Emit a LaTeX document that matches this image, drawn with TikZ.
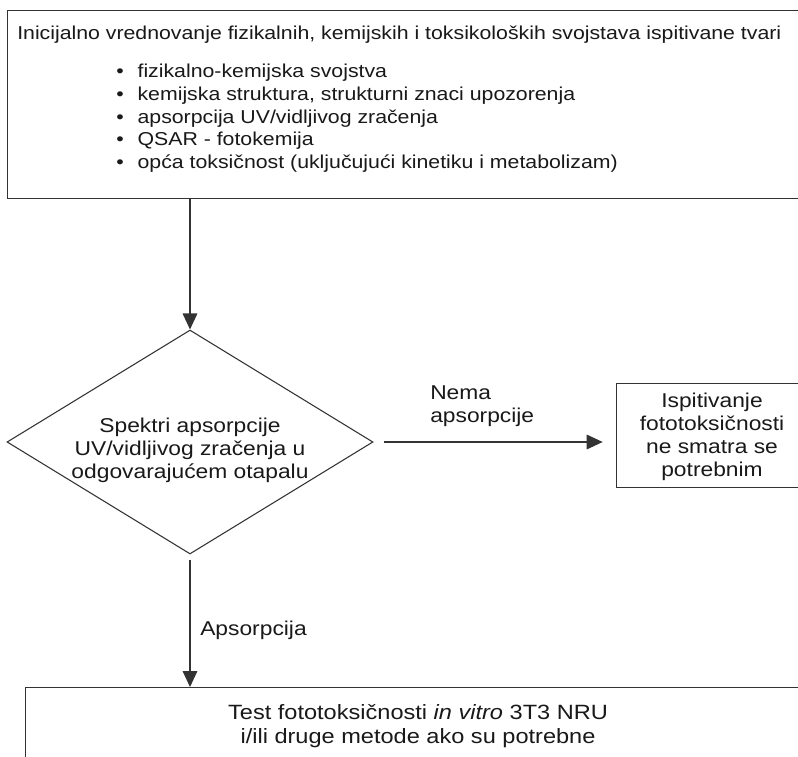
\documentclass[tikz,border=0pt]{standalone}
\usepackage{fontspec}
\setmainfont{Liberation Sans}[FakeStretch=1.14]
\usetikzlibrary{arrows.meta,shapes.geometric,calc}

\begin{document}
\begin{tikzpicture}[x=0.75pt,y=-0.75pt,
  every node/.style={inner sep=0pt},
  frame/.style={draw=black!80, line width=0.8pt},
  flow/.style={draw=black!80, line width=0.8pt, -{Triangle[length=12pt,width=11pt]}},
  txt/.style={text=black!90, font=\fontsize{15}{17.25}\selectfont},
  small/.style={text=black!90, font=\fontsize{14}{17}\selectfont}]
\useasboundingbox (0,0) rectangle (798,756);
\clip (0,0) rectangle (798,756);
\fill[white] (0,0) rectangle (798,756);

% initial evaluation box (runs off the right edge)
\node[frame, anchor=north west, minimum width=630pt, minimum height=141pt] (initial) at (7,10) {};
\node[small, anchor=base west] (title) at (17,40)
  {Inicijalno vrednovanje fizikalnih, kemijskih i toksikoloških svojstava ispitivane tvari};
\foreach \i/\y/\t in {1/78/{fizikalno-kemijska svojstva},
                      2/100.6/{kemijska struktura, strukturni znaci upozorenja},
                      3/123.2/{apsorpcija UV/vidljivog zračenja},
                      4/145.8/{QSAR - fotokemija},
                      5/168.4/{opća toksičnost (uključujući kinetiku i metabolizam)}}
  \node[small, anchor=base west] (item\i) at (116,\y) {\makebox[16pt][l]{\textbullet}\t};

% decision diamond
\node[frame, diamond, aspect=1.63, minimum width=274.5pt, minimum height=168pt] (decision) at (190,442) {};
\node[txt, align=center] (decisiontext) at (190,450)
  {Spektri apsorpcije\\UV/vidljivog zračenja u\\odgovarajućem otapalu};

% no-absorption outcome
\node[frame, anchor=north west, minimum width=200pt, minimum height=78pt] (nobox) at (616,383) {};
\node[txt, align=center] (notext) at (712,437)
  {Ispitivanje\\fototoksičnosti\\ne smatra se\\potrebnim};

% absorption outcome
\node[frame, anchor=north west, minimum width=600pt, minimum height=80pt] (testbox) at (25,687) {};
\node[txt, align=center, font=\fontsize{15.5}{17.5}\selectfont] (testtext) at (418,726)
  {Test fototoksičnosti \textit{in vitro} 3T3 NRU\\i/ili druge metode ako su potrebne};

% connectors
\draw[flow] (decision.north |- initial.south) -- (decision.north);
\draw[flow, shorten <=7.5pt, shorten >=10pt] (decision.east) -- (decision.east -| nobox.west);
\node[txt, anchor=west, align=left] (nolabel) at (430,406) {Nema\\apsorpcije};
\draw[flow, shorten <=4pt] (decision.south) -- (decision.south |- testbox.north);
\node[txt, anchor=base west] (yeslabel) at (200,635) {Apsorpcija};
\end{tikzpicture}
\end{document}
